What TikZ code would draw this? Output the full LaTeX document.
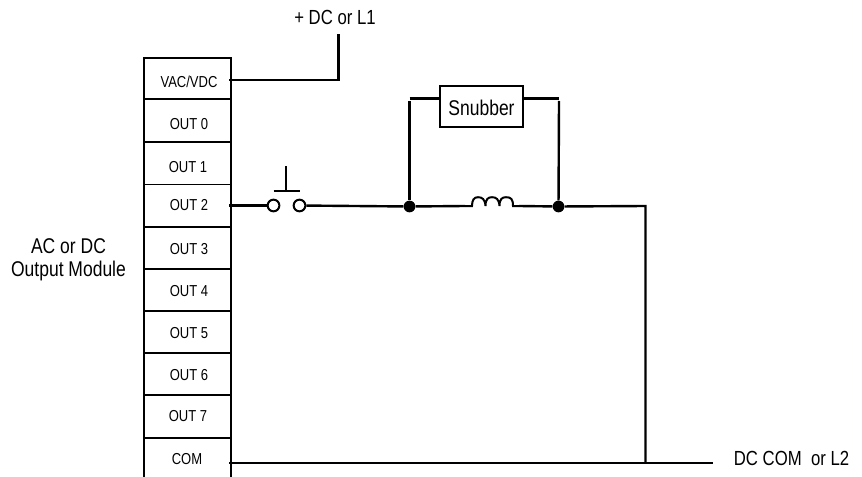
\documentclass[tikz,border=0pt]{standalone}
\usepackage{fontspec}
\setmainfont[FakeStretch=0.82]{Liberation Sans}
\begin{document}
\begin{tikzpicture}[x=0.75pt,y=-0.75pt,
  wire/.style={line width=1.8pt,black},
  thinb/.style={line width=0.85pt,black},
  slotlabel/.style={font=\fontsize{11.9pt}{14pt}\selectfont,inner sep=0pt,anchor=center},
  biglabel/.style={font=\fontsize{15.3pt}{17.5pt}\selectfont,inner sep=0pt},
  contact/.style={circle,draw=black,line width=1.5pt,fill=white,minimum size=8.8pt,inner sep=0pt},
  junction/.style={circle,fill=black,minimum size=8.8pt,inner sep=0pt},
  snubbox/.style={draw=black,line width=1.5pt,fill=white,minimum width=62pt,minimum height=31pt,inner sep=0pt}]
\useasboundingbox (0,0) rectangle (862,477);
% module
\draw[thinb] (144,477) -- (144,58) -- (231,58) -- (231,477);
\foreach \yy/\wd in {99.5/1.5pt,142/0.85pt,184.5/0.85pt,227/1.5pt,269/0.85pt,311/0.85pt,353/0.85pt,395/0.85pt,438/1.5pt}
  \draw[line width=\wd] (143,\yy) -- (231,\yy);
\node[slotlabel] (vac) at (189,82) {VAC/VDC};
\node[slotlabel] (o0) at (189,124.5) {OUT 0};
\node[slotlabel] (o1) at (188,167) {OUT 1};
\node[slotlabel] (o2) at (189,205.5) {OUT 2};
\node[slotlabel] (o3) at (189,249) {OUT 3};
\node[slotlabel] (o4) at (189,291) {OUT 4};
\node[slotlabel] (o5) at (189,333) {OUT 5};
\node[slotlabel] (o6) at (189,375) {OUT 6};
\node[slotlabel] (o7) at (188,416.5) {OUT 7};
\node[slotlabel] (com) at (187,459.5) {COM};
\node[biglabel,align=center,font=\fontsize{16pt}{17.5pt}\selectfont] (mod) at (68.5,260) {AC or DC\\Output Module};
\node[biglabel] (dcl1) at (335,17) {+ DC or L1};
\node[biglabel] (dcom) at (791.5,458) {DC COM\ \ or L2};
% coordinates
\coordinate (vacw) at (229,80);
\coordinate (l1c) at (338.5,80);
\coordinate (l1e) at (338.5,34);
\coordinate (o2w) at (229,205.5);
\coordinate (comw) at (229,463);
\coordinate (come) at (713,463);
\coordinate (tee) at (645.5,463);
\coordinate (corner) at (645.5,206);
\coordinate (coilL) at (465,206);
\coordinate (coilS) at (472,206);
\coordinate (coilE) at (513,206);
\coordinate (coilR) at (519,206);
% contacts
\node[contact] (c1) at (273.5,205.5) {};
\node[contact] (c2) at (299.5,205.5) {};
\coordinate (btnL) at (273.5,191);
\coordinate (btnR) at (299.5,191);
\coordinate (btnM) at (285.5,191);
\coordinate (btnT) at (285.5,166);
\node[junction] (j1) at (409.5,206.5) {};
\node[junction] (j2) at (558.5,206.5) {};
\node[snubbox] (snub) at (481.5,106.5) {};
\node[font=\fontsize{16pt}{18pt}\selectfont,inner sep=0pt] (snubt) at (481.5,107.5) {Snubber};
\coordinate (sl) at (409.5,98.5);
\coordinate (sr) at (559,98.5);
\coordinate (slv) at (409.5,101);
\coordinate (srv) at (559,101);
% wires
\draw[wire,line join=miter] (vacw) -- (l1c) -- (l1e);
\draw[wire] (o2w) -- (c1);
\draw[wire] (c2) -- (j1);
\draw[wire] (j1) -- (coilL);
\draw[wire] (coilR) -- (j2);
\draw[wire,line join=miter] (j2) -- (corner) -- (tee);
\draw[wire] (comw) -- (come);
\draw[line width=1.5pt] (btnL) -- (btnR);
\draw[line width=1.5pt] (btnM) -- (btnT);
\draw[wire] (j1) -- (slv);
\draw[wire] (j2) -- (srv);
\draw[wire] (sl) -- (snub.west |- sl);
\draw[wire] (snub.east |- sr) -- (sr);
% inductor
\draw[line width=1.5pt] (coilL) -- (coilS)
  .. controls (472,200) and (474,197.2) .. (478,197.2)
  .. controls (482,197.2) and (485,199) .. (485.5,206)
  .. controls (485.5,199) and (488,197.2) .. (492,197.2)
  .. controls (496,197.2) and (499,199) .. (499.5,206)
  .. controls (499.5,199) and (502,197.2) .. (506,197.2)
  .. controls (511,197.2) and (513,199) .. (coilE) -- (coilR);
\end{tikzpicture}
\end{document}
